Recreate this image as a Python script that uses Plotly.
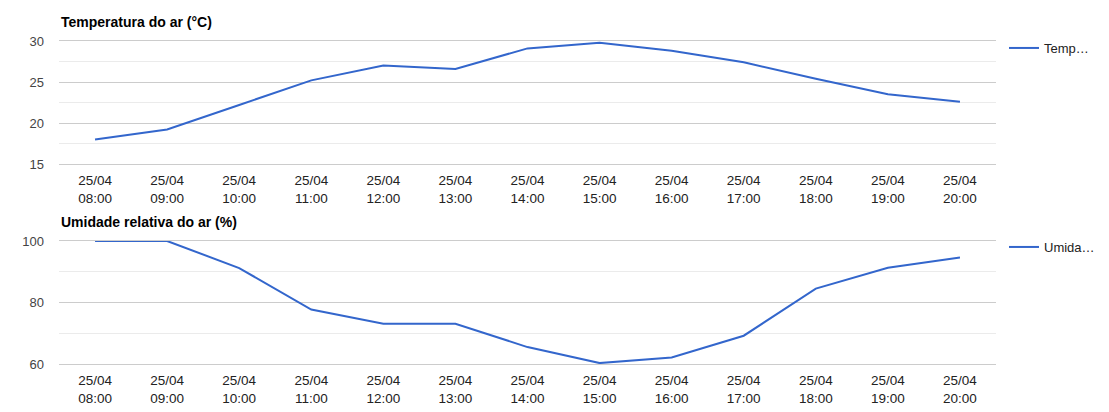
import plotly.graph_objects as go

hours = ["08:00", "09:00", "10:00", "11:00", "12:00", "13:00", "14:00",
         "15:00", "16:00", "17:00", "18:00", "19:00", "20:00"]
day = "25/04"
categories = [f"{day}<br>{h}" for h in hours]
temperature = [18.0, 19.2, 22.2, 25.2, 27.0, 26.6, 29.1, 29.8, 28.8, 27.4, 25.4, 23.5, 22.6]
humidity = [100, 100, 91.2, 77.7, 73.1, 73.1, 65.5, 60.3, 62.1, 69.2, 84.5, 91.3, 94.6]
temp_title = "Temperatura do ar (°C)"
hum_title = "Umidade relativa do ar (%)"

W, H = 1109, 412
L, R, T, B = 59, 113, 41, 48
ph = H - T - B

def py(pix):
    return (H - B - pix) / ph

def px(pix):
    return (pix - L) / (W - L - R)

FONT = "Arial, 'Liberation Sans', sans-serif"
color = "#3366cc"

fig = go.Figure()
fig.add_trace(go.Scatter(x=categories, y=temperature, mode="lines", name="Temp…",
                         line=dict(color=color, width=2), xaxis="x", yaxis="y",
                         legend="legend"))
fig.add_trace(go.Scatter(x=categories, y=humidity, mode="lines", name="Umida…",
                         line=dict(color=color, width=2), xaxis="x2", yaxis="y2",
                         legend="legend2"))

xcommon = dict(type="category", range=[-0.5, 12.5], showgrid=False, zeroline=False,
               showline=True, mirror=True, linecolor="#cccccc", linewidth=1,
               ticks="", tickfont=dict(family=FONT, size=13.5, color="#222"),
               ticklabelstandoff=4, automargin=False, fixedrange=True)
ycommon = dict(showgrid=True, gridcolor="#cccccc", gridwidth=1, zeroline=False,
               showline=False, ticks="", tickfont=dict(family=FONT, size=13, color="#444"),
               ticklabelstandoff=14, automargin=False, fixedrange=True)

fig.update_layout(
    width=W, height=H,
    margin=dict(l=L, r=R, t=T, b=B, autoexpand=False),
    paper_bgcolor="white", plot_bgcolor="white",
    font=dict(family=FONT, size=13, color="#222"),
    xaxis=dict(**xcommon, domain=[0, 1], anchor="y"),
    xaxis2=dict(**xcommon, domain=[0, 1], anchor="y2"),
    yaxis=dict(**ycommon, domain=[py(164), 1], range=[15, 30],
               tickvals=[15, 20, 25, 30],
               minor=dict(tickvals=[17.5, 22.5, 27.5], showgrid=True, gridcolor="#ebebeb", ticks="")),
    yaxis2=dict(**ycommon, domain=[0, py(241)], range=[60, 100],
                tickvals=[60, 80, 100],
                minor=dict(tickvals=[70, 90], showgrid=True, gridcolor="#ebebeb", ticks="")),
    legend=dict(x=px(1004), y=py(48), xanchor="left", yanchor="middle",
                font=dict(family=FONT, size=13, color="#222"), bgcolor="rgba(0,0,0,0)",
                itemwidth=30),
    legend2=dict(x=px(1004), y=py(247), xanchor="left", yanchor="middle",
                 font=dict(family=FONT, size=13, color="#222"), bgcolor="rgba(0,0,0,0)",
                 itemwidth=30),
    showlegend=True,
    annotations=[
        dict(text=f"<b>{temp_title}</b>", x=0, y=py(22), xref="paper", yref="paper",
             xanchor="left", yanchor="middle", showarrow=False,
             font=dict(family=FONT, size=14, color="#000")),
        dict(text=f"<b>{hum_title}</b>", x=0, y=py(222), xref="paper", yref="paper",
             xanchor="left", yanchor="middle", showarrow=False,
             font=dict(family=FONT, size=14, color="#000")),
    ],
)

fig.write_html("out.html", config={"displayModeBar": False},
               post_script="document.body.style.margin='0';document.body.style.overflow='hidden';")
